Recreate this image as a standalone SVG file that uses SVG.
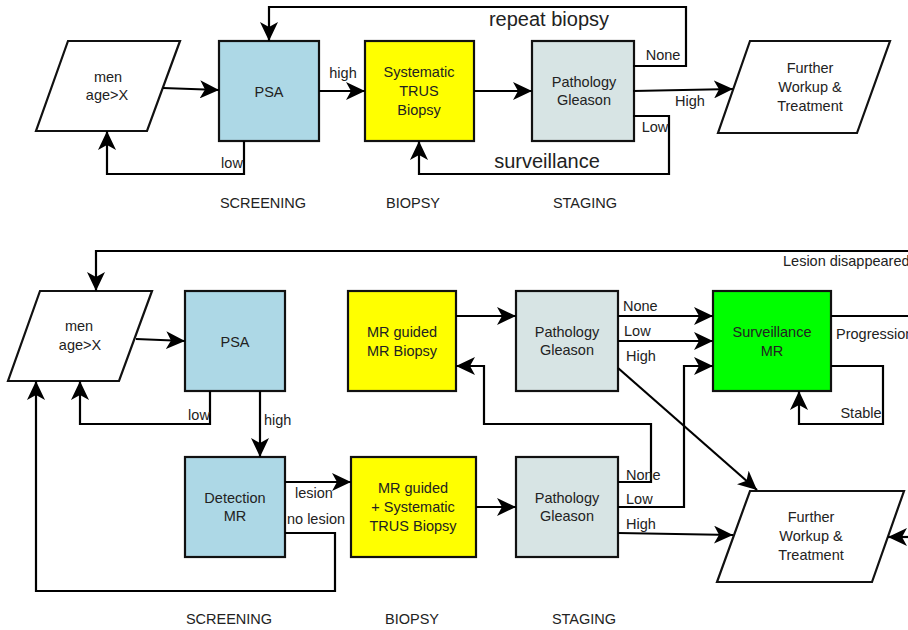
<svg xmlns="http://www.w3.org/2000/svg" width="908" height="630" viewBox="0 0 908 630">
<defs>
<style>
text{font-family:"Liberation Sans",Arial,sans-serif;font-size:14.5px;fill:#222;}
.c{text-anchor:middle;}
.big{font-size:20px;}
.box{stroke:#111;stroke-width:2.2;}
.psa{fill:#add8e6;}
.bio{fill:#ffff00;}
.pat{fill:#d7e4e4;}
.sur{fill:#00ff00;}
.io{fill:#fff;}
.ln{fill:none;stroke:#000;stroke-width:2.2;}
.ar{marker-end:url(#arr);}
</style>
<marker id="arr" markerUnits="userSpaceOnUse" markerWidth="20" markerHeight="18" viewBox="0 0 20 18" refX="19" refY="9" orient="auto">
<path d="M0,0 L19,9 L0,18 L5,9 z" fill="#000"/>
</marker>
</defs>
<rect width="908" height="630" fill="#fff"/>

<!-- TOP DIAGRAM -->
<g id="t-men"><polygon class="box io" points="68,41 180,41 147,131 36,131"/><text class="c" x="108" y="82">men</text><text class="c" x="107" y="100">age&gt;X</text></g>
<g id="t-psa"><rect class="box psa" x="219" y="41" width="100" height="100"/><text class="c" x="269" y="97">PSA</text></g>
<g id="t-biopsy"><rect class="box bio" x="365" y="41" width="109" height="100"/><text class="c" x="419" y="77">Systematic</text><text class="c" x="419" y="96">TRUS</text><text class="c" x="419" y="115">Biopsy</text></g>
<g id="t-path"><rect class="box pat" x="532" y="41" width="102" height="100"/><text class="c" x="584" y="87">Pathology</text><text class="c" x="584" y="105">Gleason</text></g>
<g id="t-further"><polygon class="box io" points="750,41 890,41 857,133 718,133"/><text class="c" x="810" y="73">Further</text><text class="c" x="810" y="92">Workup &amp;</text><text class="c" x="810" y="111">Treatment</text></g>

<!-- BOTTOM DIAGRAM -->
<g id="b-men"><polygon class="box io" points="40,291 152,291 119,381 8,381"/><text class="c" x="79" y="331">men</text><text class="c" x="80" y="350">age&gt;X</text></g>
<g id="b-psa"><rect class="box psa" x="185" y="291" width="100" height="100"/><text class="c" x="235" y="347">PSA</text></g>
<g id="b-detect"><rect class="box psa" x="185" y="457" width="100" height="100"/><text class="c" x="235" y="503">Detection</text><text class="c" x="235" y="521">MR</text></g>
<g id="b-mrbiopsy"><rect class="box bio" x="348" y="291" width="108" height="100"/><text class="c" x="402" y="337">MR guided</text><text class="c" x="402" y="356">MR Biopsy</text></g>
<g id="b-mrsys"><rect class="box bio" x="351" y="457" width="125" height="100"/><text class="c" x="413" y="493">MR guided</text><text class="c" x="413" y="512">+ Systematic</text><text class="c" x="413" y="531">TRUS Biopsy</text></g>
<g id="b-path1"><rect class="box pat" x="516" y="291" width="102" height="100"/><text class="c" x="567" y="337">Pathology</text><text class="c" x="567" y="355">Gleason</text></g>
<g id="b-path2"><rect class="box pat" x="516" y="457" width="102" height="100"/><text class="c" x="567" y="503">Pathology</text><text class="c" x="567" y="521">Gleason</text></g>
<g id="b-surv"><rect class="box sur" x="713" y="291" width="118" height="100"/><text class="c" x="772" y="337">Surveillance</text><text class="c" x="772" y="356">MR</text></g>
<g id="b-further"><polygon class="box io" points="750,491 904,491 872,582 717,582"/><text class="c" x="811" y="522">Further</text><text class="c" x="811" y="541">Workup &amp;</text><text class="c" x="811" y="560">Treatment</text></g>

<g id="connectors">
<path class="ln ar" d="M163,88 L219,90"/>
<path class="ln ar" d="M319,91 L365,91"/>
<path class="ln ar" d="M474,91 L532,91"/>
<path class="ln ar" d="M633,66 H686 V7 H269 V41"/>
<path class="ln ar" d="M633,91 L733,89"/>
<path class="ln ar" d="M633,116 H669 V174 H419 V141"/>
<path class="ln ar" d="M244,141 V174 H107 V131"/>

<path class="ln ar" d="M910,251 H96 V291"/>
<path class="ln ar" d="M136,339 L185,341"/>
<path class="ln ar" d="M210,391 V424 H80 V381"/>
<path class="ln ar" d="M260,391 V457"/>
<path class="ln ar" d="M285,482 H351"/>
<path class="ln ar" d="M285,533 H335 V591 H36 V381"/>
<path class="ln ar" d="M456,316 H516"/>
<path class="ln ar" d="M618,316 H713"/>
<path class="ln ar" d="M618,341 H713"/>
<path class="ln ar" d="M618,368 L757,490"/>
<path class="ln ar" d="M831,366 H883 V424 H799 V391"/>
<path class="ln" d="M831,316 H910"/>
<path class="ln ar" d="M618,482 H651 V424 H484 V366 H456"/>
<path class="ln ar" d="M618,507 H684 V366 H713"/>
<path class="ln ar" d="M618,533 L733,535"/>
<path class="ln ar" d="M910,537 H888"/>
<path class="ln ar" d="M476,507 H516"/>
</g>

<g id="labels">
<text class="c" x="343" y="78">high</text>
<text class="c" x="232" y="168">low</text>
<text class="c" x="663" y="60">None</text>
<text class="c" x="690" y="106">High</text>
<text class="c" x="655" y="132">Low</text>
<text class="c big" x="549" y="26">repeat biopsy</text>
<text class="c big" x="547" y="168">surveillance</text>
<text class="c" x="263" y="208">SCREENING</text>
<text class="c" x="413" y="208">BIOPSY</text>
<text class="c" x="585" y="208">STAGING</text>

<text x="783" y="266">Lesion disappeared</text>
<text class="c" x="199" y="420">low</text>
<text x="264" y="425">high</text>
<text class="c" x="314" y="498">lesion</text>
<text class="c" x="316" y="524">no lesion</text>
<text x="623" y="311">None</text>
<text x="624" y="336">Low</text>
<text x="626" y="361">High</text>
<text x="836" y="339">Progression</text>
<text class="c" x="861" y="418">Stable</text>
<text x="626" y="480">None</text>
<text x="626" y="504">Low</text>
<text x="626" y="529">High</text>
<text class="c" x="229" y="624">SCREENING</text>
<text class="c" x="412" y="624">BIOPSY</text>
<text class="c" x="584" y="624">STAGING</text>
</g>
</svg>
